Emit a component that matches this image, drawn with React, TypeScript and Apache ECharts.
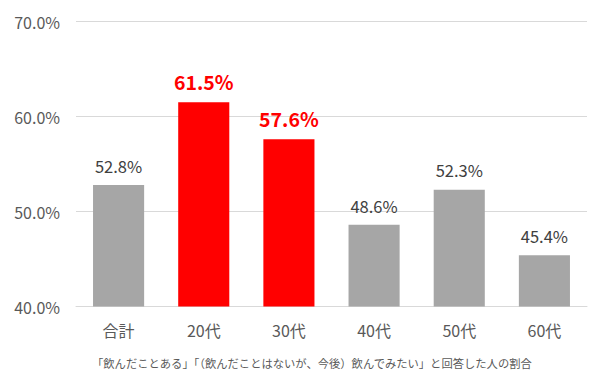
import React, { useEffect, useRef } from "react";
import * as echarts from "echarts";

const categories = ["合計", "20代", "30代", "40代", "50代", "60代"];
const values = [52.8, 61.5, 57.6, 48.6, 52.3, 45.4];
const highlighted = [false, true, true, false, false, false];
const footnote = "「飲んだことある」「（飲んだことはないが、今後）飲んでみたい」と回答した人の割合";

const FONT = "'Noto Sans CJK JP', 'Noto Sans', sans-serif";

export default function App() {
  const ref = useRef<HTMLDivElement>(null);
  useEffect(() => {
    if (!ref.current) return;
    const chart = echarts.init(ref.current, undefined, { renderer: "svg" });
    chart.setOption({
      animation: false,
      grid: { left: 76, right: 13, top: 21.5, bottom: 78.5, containLabel: false },
      xAxis: {
        type: "category",
        data: categories,
        axisLine: { show: true, lineStyle: { color: "#D9D9D9", width: 1 } },
        axisTick: { show: false },
        axisLabel: { color: "#595959", fontSize: 16, fontFamily: FONT, margin: 15 },
      },
      yAxis: {
        type: "value",
        min: 40,
        max: 70,
        interval: 10,
        axisLine: { show: false },
        axisTick: { show: false },
        splitLine: { lineStyle: { color: "#D9D9D9", width: 1 } },
        axisLabel: {
          color: "#595959",
          fontSize: 16,
          fontFamily: FONT,
          margin: 16,
          formatter: (v: number) => v.toFixed(1) + "%",
        },
      },
      series: [
        {
          type: "bar",
          barWidth: "60%",
          data: values.map((v, i) => ({
            value: v,
            itemStyle: { color: highlighted[i] ? "#FF0000" : "#A6A6A6" },
            label: highlighted[i]
              ? { color: "#FF0000", fontWeight: "bold", fontSize: 19.5 }
              : { color: "#404040", fontWeight: "normal", fontSize: 16.5 },
          })),
          label: {
            show: true,
            position: "top",
            distance: 11,
            fontFamily: FONT,
            formatter: (p: any) => p.value.toFixed(1) + "%",
          },
        },
      ],
      graphic: [
        {
          type: "text",
          left: 92,
          top: 357,
          style: { text: footnote, fill: "#595959", fontSize: 11.3, fontFamily: FONT },
        },
      ],
    });
    return () => chart.dispose();
  }, []);
  return (
    <div
      ref={ref}
      style={{ width: 600, height: 385, position: "absolute", left: 0, top: 0 }}
    />
  );
}
